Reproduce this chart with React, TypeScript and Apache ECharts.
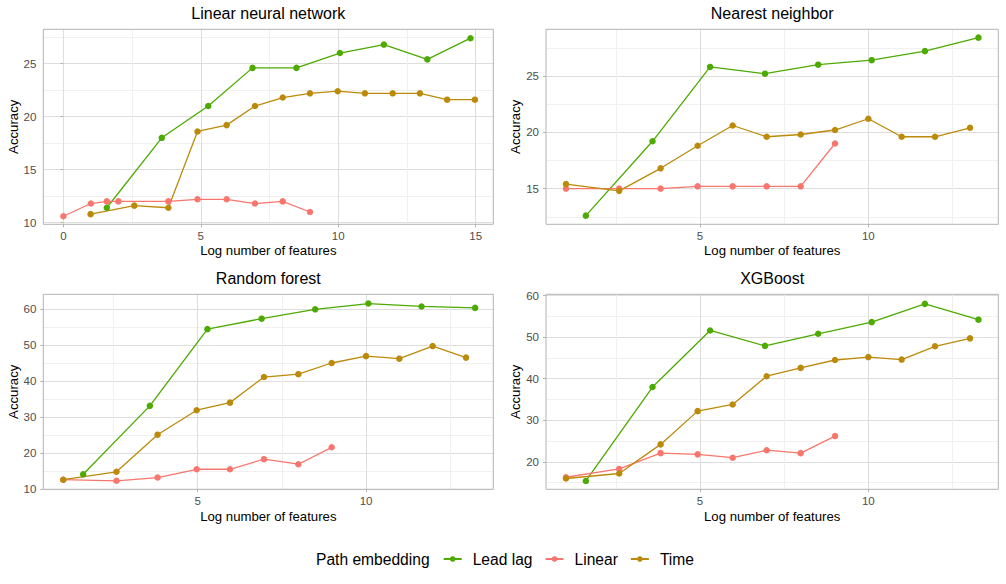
import React, { useEffect, useRef } from "react";
import * as echarts from "echarts";

const embeddings = ["Lead lag", "Linear", "Time"];
const embeddingColors = ["#4DAA00", "#F8766D", "#BC8A0A"];
const panelTitles = ["Linear neural network", "Nearest neighbor", "Random forest", "XGBoost"];
const legendTitle = "Path embedding";
const xAxisTitle = "Log number of features";
const yAxisTitle = "Accuracy";

// Linear neural network
const lnnLeadLag = [[1.58, 11.4], [3.58, 18.0], [5.27, 21.0], [6.88, 24.6], [8.48, 24.6], [10.06, 26.0], [11.66, 26.8], [13.24, 25.4], [14.81, 27.4]];
const lnnLinear = [[0, 10.6], [1, 11.8], [1.58, 12.0], [2, 12.0], [3.82, 12.0], [4.88, 12.2], [5.94, 12.2], [6.97, 11.8], [7.98, 12.0], [8.97, 11.0]];
const lnnTime = [[0.99, 10.8], [2.58, 11.6], [3.82, 11.4], [4.88, 18.6], [5.94, 19.2], [6.97, 21.0], [7.98, 21.8], [8.97, 22.2], [9.98, 22.4], [10.97, 22.2], [11.98, 22.2], [12.97, 22.2], [13.96, 21.6], [14.97, 21.6]];

// Nearest neighbor
const nnLeadLag = [[1.61, 12.6], [3.59, 19.2], [5.3, 25.8], [6.93, 25.2], [8.51, 26.0], [10.1, 26.4], [11.68, 27.2], [13.27, 28.4]];
const nnLinear = [[1.02, 15.0], [2.6, 15.0], [3.83, 15.0], [4.93, 15.2], [5.97, 15.2], [6.98, 15.2], [7.99, 15.2], [9.01, 19.0]];
const nnTime = [[1.02, 15.4], [2.6, 14.8], [3.83, 16.8], [4.93, 18.8], [5.97, 20.6], [6.98, 19.6], [7.99, 19.8], [9.01, 20.2], [10.0, 21.2], [10.99, 19.6], [11.98, 19.6], [13.02, 20.4]];

// Random forest
const rfLeadLag = [[1.6, 14.1], [3.58, 33.1], [5.29, 54.4], [6.9, 57.3], [8.49, 59.9], [10.07, 61.5], [11.65, 60.7], [13.24, 60.3]];
const rfLinear = [[1.01, 12.6], [2.59, 12.3], [3.81, 13.2], [4.97, 15.5], [5.96, 15.5], [6.97, 18.3], [7.99, 16.9], [8.98, 21.6]];
const rfTime = [[1.01, 12.6], [2.59, 14.8], [3.81, 25.1], [4.97, 31.9], [5.96, 34.0], [6.97, 41.1], [7.99, 41.9], [8.98, 45.0], [10.0, 46.9], [10.99, 46.2], [11.98, 49.7], [12.97, 46.5]];

// XGBoost
const xgbLeadLag = [[1.61, 15.4], [3.59, 38.0], [5.3, 51.6], [6.93, 47.9], [8.51, 50.8], [10.1, 53.6], [11.68, 58.0], [13.27, 54.2]];
const xgbLinear = [[1.02, 16.3], [2.6, 18.3], [3.83, 22.1], [4.93, 21.8], [5.97, 21.0], [6.98, 22.8], [7.99, 22.1], [9.01, 26.2]];
const xgbTime = [[1.02, 16.0], [2.6, 17.2], [3.83, 24.2], [4.93, 32.2], [5.97, 33.8], [6.98, 40.6], [7.99, 42.6], [9.01, 44.5], [10.0, 45.2], [10.99, 44.6], [11.98, 47.8], [13.02, 49.7]];

const panelSeries = [
  [lnnLeadLag, lnnLinear, lnnTime],
  [nnLeadLag, nnLinear, nnTime],
  [rfLeadLag, rfLinear, rfTime],
  [xgbLeadLag, xgbLinear, xgbTime],
];

// axis ranges and ticks
const xMin = [-0.73, 0.426, 0.416, 0.426];
const xMax = [15.64, 13.86, 13.78, 13.86];
const xStep = [5, 5, 5, 5];
const xTicks = [[0, 5, 10, 15], [5, 10], [5, 10], [5, 10]];
const yMin = [9.84, 11.83, 9.94, 13.4];
const yMax = [28.24, 29.14, 64.07, 60.3];
const yStep = [5, 5, 10, 10];
const yTicks = [[10, 15, 20, 25], [15, 20, 25], [10, 20, 30, 40, 50, 60], [20, 30, 40, 50, 60]];

const FONT = "'Liberation Sans', Arial, Helvetica, sans-serif";

const grids = [
  { left: 43.3, top: 29.3, width: 450, height: 195 },
  { left: 546, top: 29.3, width: 452.3, height: 195 },
  { left: 43.3, top: 294.3, width: 450, height: 195 },
  { left: 546, top: 294.3, width: 452.3, height: 195 },
];

export default function App() {
  const ref = useRef<HTMLDivElement>(null);
  useEffect(() => {
    document.body.style.margin = "0";
    const chart = echarts.init(ref.current!, null, { renderer: "svg" });
    const isTick = (v: number, list: number[]) => list.some((t) => Math.abs(t - v) < 1e-6);
    const option: any = {
      animation: false,
      backgroundColor: "#ffffff",
      textStyle: { fontFamily: FONT },
      title: grids.map((g, i) => ({
        text: panelTitles[i],
        left: g.left + g.width / 2,
        top: g.top - 23.5,
        textAlign: "center",
        padding: 0,
        textStyle: { fontSize: 16, fontWeight: "normal", color: "#000000", fontFamily: FONT },
      })),
      grid: grids.map((g) => ({
        ...g,
        show: true,
        borderColor: "#b3b3b3",
        borderWidth: 1,
        backgroundColor: "transparent",
        z: 1,
      })),
      xAxis: grids.map((g, i) => ({
        type: "value",
        gridIndex: i,
        min: xMin[i],
        max: xMax[i],
        minInterval: xStep[i],
        maxInterval: xStep[i],
        z: 0,
        name: xAxisTitle,
        nameLocation: "middle",
        nameGap: i < 2 ? 20 : 20.5,
        nameTextStyle: { fontSize: 13.2, color: "#000000", fontFamily: FONT },
        axisLine: { show: false },
        axisTick: { show: true, length: 3, lineStyle: { color: "#b3b3b3", width: 1 }, customValues: xTicks[i] },
        axisLabel: {
          show: true,
          margin: 6,
          fontSize: 11.5,
          color: "#4d4d4d",
          fontFamily: FONT,
          customValues: xTicks[i],
          formatter: (v: number) => (isTick(v, xTicks[i]) ? String(v) : ""),
        },
        splitLine: { show: true, lineStyle: { color: "#dedede", width: 1 } },
        minorTick: { show: false, splitNumber: 2 },
        minorSplitLine: { show: true, lineStyle: { color: "#f0f0f0", width: 1 } },
      })),
      yAxis: grids.map((g, i) => ({
        type: "value",
        gridIndex: i,
        min: yMin[i],
        max: yMax[i],
        minInterval: yStep[i],
        maxInterval: yStep[i],
        z: 0,
        name: yAxisTitle,
        nameLocation: "middle",
        nameGap: i % 2 === 0 ? 23.5 : 24.5,
        nameTextStyle: { fontSize: 13.2, color: "#000000", fontFamily: FONT },
        axisLine: { show: false },
        axisTick: { show: true, length: 3, lineStyle: { color: "#b3b3b3", width: 1 }, customValues: yTicks[i] },
        axisLabel: {
          show: true,
          margin: 7,
          fontSize: 11.5,
          color: "#4d4d4d",
          fontFamily: FONT,
          customValues: yTicks[i],
          formatter: (v: number) => (isTick(v, yTicks[i]) ? String(v) : ""),
        },
        splitLine: { show: true, lineStyle: { color: "#dedede", width: 1 } },
        minorTick: { show: false, splitNumber: 2 },
        minorSplitLine: { show: true, lineStyle: { color: "#f0f0f0", width: 1 } },
      })),
      legend: {
        data: embeddings,
        left: 442.7,
        top: 551,
        orient: "horizontal",
        itemWidth: 18,
        itemHeight: 7,
        itemGap: 12,
        padding: 0,
        textStyle: { fontSize: 15.6, color: "#000000", fontFamily: FONT, padding: [0, 0, 0, 6] },
      },
      graphic: [
        {
          type: "text",
          x: 316,
          y: 559,
          style: { text: legendTitle, fontSize: 15.6, fontFamily: FONT, fill: "#000000", align: "left", verticalAlign: "middle" },
        },
      ],
      series: panelSeries.flatMap((group, i) =>
        group.map((data, j) => ({
          type: "line",
          name: embeddings[j],
          xAxisIndex: i,
          yAxisIndex: i,
          data,
          symbol: "circle",
          symbolSize: 6.5,
          showSymbol: true,
          z: 3,
          lineStyle: { color: embeddingColors[j], width: 1.3 },
          itemStyle: { color: embeddingColors[j] },
          emphasis: { disabled: true },
        }))
      ),
    };
    chart.setOption(option);
    return () => chart.dispose();
  }, []);
  return <div ref={ref} style={{ position: "absolute", left: 0, top: 0, width: 1006, height: 584 }} />;
}
